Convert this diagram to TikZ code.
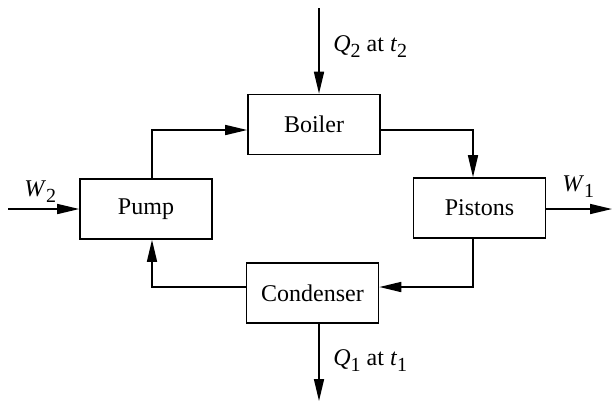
\documentclass[tikz,border=0pt]{standalone}
\usepackage{fontspec}
\setmainfont{Liberation Serif}
\usetikzlibrary{arrows.meta}
\newcommand{\lsub}[1]{\raisebox{-0.55ex}{\fontsize{10}{10}\selectfont #1}}
\newcommand{\qty}[2]{\textit{#1}\lsub{#2}}

\tikzset{
  unit/.style={draw, line width=0.8pt, minimum width=66pt, minimum height=30pt, inner sep=0pt},
  flow/.style={-{Triangle[length=11pt,width=5pt]}, line width=0.8pt},
  lbl/.style={anchor=west, inner sep=0pt}
}

\begin{document}
\begin{tikzpicture}[x=0.5pt, y=-0.5pt, font=\fontsize{12}{14}\selectfont]
\useasboundingbox (0,0) rectangle (613,403);
% units
\node[unit] (boil) at (314,124.5) {Boiler};
\node[unit] (pump) at (146,209) {Pump};
\node[unit] (pist) at (479.5,208) {Pistons};
\node[unit] (cond) at (312.5,293) {Condenser};
% free ends
\coordinate (q2in) at (319,8);
\coordinate (q1out) at (319,401);
\coordinate (w2in) at (8,209);
\coordinate (w1out) at (612,209);
% cycle
\draw[flow] ([xshift=3pt]pump.north) |- ([yshift=-2.75pt]boil.west);
\draw[flow] ([yshift=-2.75pt]boil.east) -| ([xshift=-3.25pt]pist.north);
\draw[flow] ([xshift=-3.25pt]pist.south) |- ([yshift=3pt]cond.east);
\draw[flow] ([yshift=3pt]cond.west) -| ([xshift=3pt]pump.south);
% heat and work
\draw[flow] (q2in) -- (q2in |- boil.north);
\draw[flow] (q1out |- cond.south) -- (q1out);
\draw[flow] (w2in) -- (pump.west);
\draw[flow] (pist.east |- w1out) -- (w1out);
% labels
\node[lbl] (q2lbl) at (333,47) {\qty{Q}{2} at \qty{t}{2}};
\node[lbl] (q1lbl) at (333,361) {\qty{Q}{1} at \qty{t}{1}};
\node[lbl] (w2lbl) at (24,192) {\qty{W}{2}};
\node[lbl] (w1lbl) at (562,187) {\qty{W}{1}};
\end{tikzpicture}
\end{document}
